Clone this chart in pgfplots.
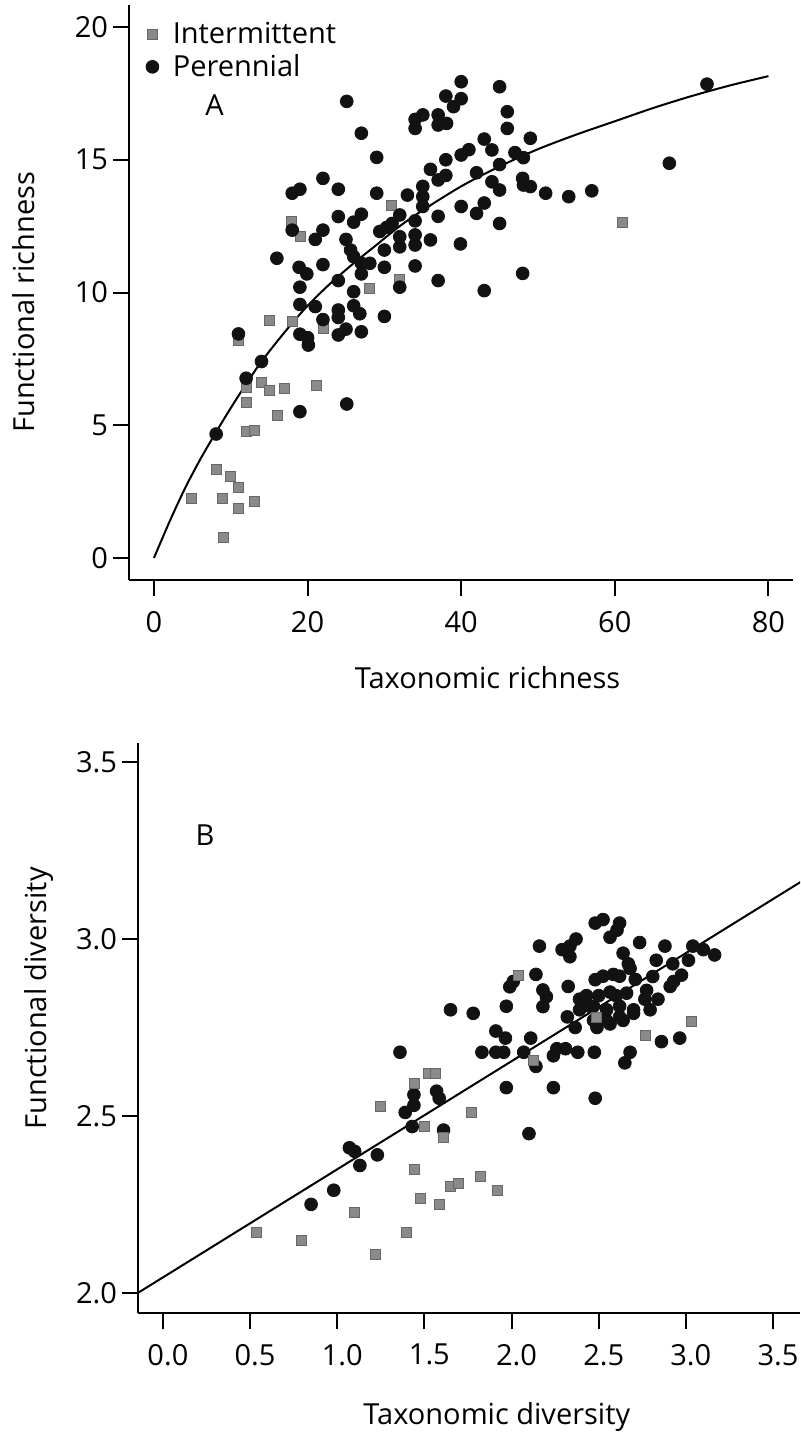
\documentclass[border=0pt]{standalone}
\usepackage{fontspec}
\setmainfont{Open Sans}
\usepackage{pgfplots}
\pgfplotsset{compat=1.18}

\definecolor{intgray}{RGB}{138,138,138}
\definecolor{perblack}{RGB}{18,18,18}
\newcommand{\figfont}{\fontsize{14.5}{17}\selectfont}

\pgfplotsset{
  panel/.style={
    scale only axis,
    axis x line*=bottom,
    axis y line*=left,
    axis line style={line width=1.1pt,-},
    tick align=outside,
    major tick length=8pt,
    every tick/.style={black,line width=1pt},
    tick label style={font=\figfont},
    xticklabel style={yshift=-4pt},
    yticklabel style={xshift=1pt},
    /pgf/number format/assume math mode=true,
    clip=true,
  },
  intmark/.style={only marks, mark=square*, mark size=2.5pt,
    mark options={fill=intgray, draw=intgray!75!black, line width=0.3pt}},
  permark/.style={only marks, mark=*, mark size=3.2pt,
    mark options={fill=perblack, draw=perblack}},
}

\begin{document}
\begin{tikzpicture}
\useasboundingbox (0,0) rectangle (400pt,-716.5pt);

% ---------- Panel A: richness ----------
\begin{axis}[panel,
  at={(64.5pt,-290pt)}, anchor=south west,
  width=332pt, height=287.5pt,
  xmin=-3.25, xmax=83.2, ymin=-0.83, ymax=20.83,
  xtick={0,20,40,60,80}, ytick={0,5,10,15,20},
  legend style={at={(axis description cs:0.016,0.985)}, anchor=north west,
    draw=none, fill=none, font=\figfont, row sep=0pt},
  legend cell align=left,
  legend image code/.code={
    \draw[#1, only marks] plot coordinates {(0pt,0pt)};},
  after end axis/.code={
    \node[font=\figfont] at (rel axis cs:0.540,-0.169) {Taxonomic richness};
    \node[font=\figfont, rotate=90] at (rel axis cs:-0.158,0.483) {Functional richness};
  },
]
\addplot[intmark] table {
4.9 2.25
8.1 3.35
8.9 2.25
9.0 0.77
10.0 3.06
11.0 2.66
11.0 1.87
13.0 2.12
12.0 4.76
13.0 4.80
12.0 5.86
12.0 6.43
14.0 6.60
15.0 6.30
17.0 6.39
16.0 5.36
21.1 6.52
11.0 8.19
15.0 8.94
18.0 8.90
22.0 8.65
17.9 12.67
19.0 12.10
28.0 10.16
32.0 10.50
30.9 13.30
61.0 12.63
};
\addlegendentry{\hspace{5pt}Intermittent}
\addplot[permark] table {
8.1 4.67
12.0 6.77
14.0 7.40
11.0 8.44
19.0 5.51
25.1 5.80
16.0 11.29
18.0 13.74
19.0 13.89
22.0 14.30
24.0 13.89
25.1 17.20
27.0 16.00
29.0 15.09
29.0 13.74
18.0 12.35
21.0 12.00
22.0 12.35
24.0 12.86
26.0 12.65
27.0 12.95
25.0 12.00
25.6 11.60
18.9 10.95
19.9 10.70
22.0 11.05
26.0 11.35
27.0 11.10
28.1 11.10
27.0 10.70
30.0 11.60
30.0 10.95
24.0 10.45
19.0 10.20
26.0 10.03
19.0 9.55
21.0 9.47
24.0 9.34
24.0 9.06
26.0 9.50
26.8 9.20
22.0 8.98
30.0 9.10
19.0 8.43
20.0 8.30
20.1 8.02
24.0 8.40
25.0 8.62
27.0 8.52
31.0 12.60
32.0 12.92
32.0 12.10
32.0 11.72
34.0 12.17
34.0 11.79
34.0 11.00
32.0 10.20
30.3 12.45
29.4 12.30
33.0 13.67
34.0 16.52
35.0 16.69
34.0 16.18
37.0 16.69
38.1 16.37
37.0 16.31
36.0 14.64
35.0 14.00
35.0 13.61
35.0 13.24
34.0 12.70
36.0 11.98
39.9 11.83
37.0 12.87
37.0 10.45
43.0 10.07
48.0 10.72
40.0 17.94
45.0 17.75
38.0 17.40
40.0 17.30
39.0 17.00
46.0 16.81
46.0 16.18
43.0 15.78
49.0 15.81
40.0 15.18
41.0 15.38
44.0 15.37
47.0 15.27
48.1 15.08
38.0 15.00
42.0 14.51
45.0 14.82
37.0 14.24
38.0 14.41
44.0 14.17
45.0 13.86
48.0 14.30
48.1 14.05
49.0 13.99
51.0 13.74
54.0 13.61
57.0 13.83
67.1 14.87
72.0 17.85
40.0 13.24
42.0 12.98
43.0 13.37
45.0 12.60
};
\addlegendentry{\hspace{5pt}Perennial}
% saturating fit
\addplot[black, line width=1pt, smooth, no marks, forget plot] coordinates {
(0,0) (2,1.35) (4,2.6) (6,3.7) (8,4.7) (10,5.65) (12,6.55) (14,7.4)
(17,8.5) (20,9.5) (23,10.35) (26,11.1) (29,11.8) (32,12.5) (35,13.1)
(40,14.0) (45,14.75) (50,15.4) (55,15.95) (60,16.45) (65,16.95)
(70,17.4) (75,17.8) (80,18.15)
};
\node[font=\figfont] at (axis cs:7.9,17.06) {A};
\end{axis}

% ---------- Panel B: diversity ----------
\begin{axis}[panel,
  at={(69pt,-656.5pt)}, anchor=south west,
  width=331pt, height=285pt,
  xmin=-0.143, xmax=3.655, ymin=1.943, ymax=3.554,
  xtick={0,0.5,1,1.5,2,2.5,3,3.5}, ytick={2,2.5,3,3.5},
  xticklabel style={xshift=2.5pt, /pgf/number format/.cd, fixed, fixed zerofill, precision=1},
  yticklabel style={/pgf/number format/.cd, fixed, fixed zerofill, precision=1},
  after end axis/.code={
    \node[font=\figfont] at (rel axis cs:0.542,-0.182) {Taxonomic diversity};
    \node[font=\figfont, rotate=90] at (rel axis cs:-0.149,0.552) {Functional diversity};
  },
]
\addplot[permark] table {
0.85 2.25
0.98 2.29
1.07 2.41
1.10 2.40
1.13 2.36
1.23 2.39
1.36 2.68
1.39 2.51
1.43 2.47
1.44 2.53
1.44 2.56
1.57 2.57
1.585 2.55
1.61 2.46
1.97 2.58
2.10 2.45
2.24 2.58
2.48 2.55
1.83 2.68
1.91 2.68
1.955 2.68
2.07 2.68
2.24 2.67
2.26 2.69
2.31 2.69
2.38 2.68
2.475 2.68
2.65 2.65
2.68 2.68
2.14 2.64
1.91 2.74
1.965 2.72
2.11 2.72
1.65 2.80
1.78 2.79
1.97 2.81
1.99 2.865
2.01 2.88
2.14 2.90
2.16 2.98
2.18 2.856
2.20 2.837
2.18 2.809
2.325 2.866
2.29 2.97
2.335 2.95
2.37 3.00
2.335 2.98
2.32 2.78
2.365 2.75
2.39 2.83
2.43 2.84
2.39 2.80
2.45 2.81
2.48 3.045
2.525 3.055
2.62 3.045
2.565 3.005
2.605 3.025
2.48 2.885
2.525 2.895
2.585 2.90
2.62 2.895
2.71 2.886
2.81 2.894
2.975 2.898
2.93 2.88
2.91 2.866
2.50 2.84
2.565 2.85
2.60 2.84
2.66 2.847
2.47 2.81
2.545 2.80
2.62 2.81
2.70 2.80
2.765 2.83
2.795 2.80
2.84 2.83
2.775 2.855
2.47 2.77
2.545 2.77
2.62 2.78
2.70 2.79
2.49 2.75
2.565 2.76
2.64 2.77
2.64 2.96
2.67 2.93
2.68 2.917
2.735 2.99
2.88 2.98
3.04 2.98
3.10 2.97
3.165 2.955
3.015 2.94
2.925 2.93
2.83 2.94
2.86 2.71
2.965 2.72
};
\addplot[intmark] table {
0.534 2.170
0.796 2.148
1.096 2.228
1.216 2.110
1.245 2.526
1.394 2.171
1.442 2.592
1.52 2.62
1.56 2.62
1.50 2.47
1.77 2.51
1.608 2.44
1.44 2.349
1.478 2.268
1.585 2.251
1.647 2.30
1.694 2.31
1.823 2.33
1.92 2.289
2.125 2.658
2.039 2.898
2.488 2.78
2.765 2.729
3.033 2.767
};
% linear fit
\addplot[black, line width=1pt, no marks] coordinates {(-0.143,2.0) (3.7,3.174)};
\node[font=\figfont] at (axis cs:0.241,3.294) {B};
\end{axis}
\end{tikzpicture}
\end{document}
